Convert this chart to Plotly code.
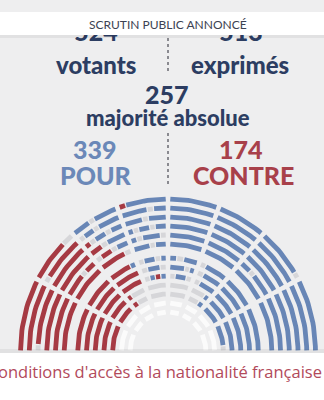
import math
import plotly.graph_objects as go

# ---------------- data ----------------
VOTANTS = 524
EXPRIMES = 513
MAJORITE = 257
POUR = 339
CONTRE = 174
HEADER = "SCRUTIN PUBLIC ANNONCÉ"
FOOTER = "onditions d'accès à la nationalité française"
LBL_VOTANTS = "votants"
LBL_EXPRIMES = "exprimés"
LBL_MAJ = "majorité absolue"
LBL_POUR = "POUR"
LBL_CONTRE = "CONTRE"

# seat vote runs per row (outer row first), listed left to right
# R = contre, B = pour, G = non exprimé / absent, W = banc vide
row_runs = [
    [("R", 19), ("G", 2), ("B", 3), ("G", 1), ("B", 4), ("R", 1), ("B", 30), ("G", 1), ("B", 12)],
    [("R", 11), ("G", 1), ("R", 7), ("G", 1), ("B", 2), ("G", 1), ("B", 8), ("G", 1), ("B", 37)],
    [("G", 1), ("R", 18), ("G", 1), ("B", 2), ("G", 1), ("B", 5), ("G", 1), ("B", 36)],
    [("R", 19), ("G", 1), ("B", 4), ("G", 1), ("B", 2), ("G", 1), ("B", 32)],
    [("R", 13), ("G", 1), ("R", 2), ("G", 1), ("R", 2), ("G", 1), ("B", 3), ("G", 1), ("B", 3), ("G", 1), ("B", 14), ("G", 1), ("B", 13)],
    [("R", 19), ("G", 1), ("B", 3), ("G", 1), ("B", 28)],
    [("R", 17), ("B", 1), ("G", 1), ("B", 2), ("G", 1), ("B", 2), ("G", 1), ("B", 2), ("G", 1), ("B", 2), ("B", 15)],
    [("R", 16), ("G", 1), ("B", 2), ("G", 1), ("B", 1), ("B", 2), ("G", 1), ("B", 1), ("G", 1), ("B", 2), ("B", 13)],
    [("R", 14), ("G", 1), ("B", 1), ("R", 1), ("B", 1), ("G", 1), ("B", 2), ("G", 2), ("B", 1), ("B", 12)],
    [("R", 10), ("G", 12), ("B", 10)],
    [("R", 9), ("G", 10), ("B", 8), ("G", 1)],
    [("W", 23)],
    [("W", 19)],
]

# ---------------- style / layout ----------------
W, H = 324, 400
BG = "#eeeeef"
COLORS = {"R": "#a63a43", "B": "#6886b6", "G": "#d6d6d9", "W": "#fbfbfb"}
NAVY = "#2c3d62"
BLUE_T = "#6b88b8"
RED_T = "#a8404a"
CX, CY = 168, 351
XS = 0.97
RADII = [152, 143, 134, 125, 116, 107, 93, 84, 75, 66, 57, 48, 39]
AISLES = [28, 50, 70, 90, 110, 130, 152]
AISLE_PX = 3.4
BAR_W = 4.8
GAP_PX = 1.3

paths = {k: ([], []) for k in COLORS}
for r, runs in zip(RADII, row_runs):
    seats = [c for c, n in runs for _ in range(n)]
    n = len(seats)
    half = math.degrees(AISLE_PX / 2 / r)
    edges = sorted([0, 180] + AISLES, reverse=True)
    sectors = []
    for k in range(len(edges) - 1):
        a0 = edges[k] - (half if k > 0 else 0)
        a1 = edges[k + 1] + (half if k + 1 < len(edges) - 1 else 0)
        sectors.append((a0, a1))
    total = sum(a0 - a1 for a0, a1 in sectors)
    counts, cum, acc = [], 0, 0.0
    for a0, a1 in sectors:
        acc += (a0 - a1) / total * n
        c = int(round(acc)) - cum
        counts.append(c)
        cum += c
    idx = 0
    g = math.degrees(GAP_PX / 2 / r)
    for (a0, a1), c in zip(sectors, counts):
        if c <= 0:
            continue
        step = (a0 - a1) / c
        j = 0
        while j < c:
            col = seats[idx + j]
            k = j
            while k < c and seats[idx + k] == col:
                k += 1
            s = a0 - j * step - g
            e = a0 - k * step + g
            npts = max(3, int((s - e) / 1.5) + 2)
            xs, ys = paths[col]
            for p in range(npts):
                a = math.radians(s + (e - s) * p / (npts - 1))
                xs.append(CX + XS * r * math.cos(a))
                ys.append(CY - r * math.sin(a))
            xs.append(None)
            ys.append(None)
            j = k
        idx += c

fig = go.Figure()
for key, (xs, ys) in paths.items():
    fig.add_trace(go.Scatter(x=xs, y=ys, mode="lines", hoverinfo="skip",
                             line=dict(color=COLORS[key], width=BAR_W)))

# numbers partly hidden behind the header band
fig.add_trace(go.Scatter(x=[96, 241], y=[35, 35], mode="text",
                         text=[str(VOTANTS), str(EXPRIMES)],
                         textfont=dict(family="Lato", size=25, color=NAVY, weight=900),
                         hoverinfo="skip"))

shapes = [
    dict(type="rect", x0=0, x1=W, y0=35, y1=38, fillcolor="rgba(0,0,0,0.05)", line=dict(width=0), layer="above"),
    dict(type="rect", x0=0, x1=W, y0=12, y1=35, fillcolor="white", line=dict(width=0), layer="above"),
    dict(type="rect", x0=0, x1=W, y0=349, y1=353, fillcolor="rgba(0,0,0,0.05)", line=dict(width=0), layer="above"),
    dict(type="rect", x0=0, x1=W, y0=353, y1=H, fillcolor="white", line=dict(width=0), layer="above"),
    dict(type="line", x0=168, x1=168, y0=38, y1=73, line=dict(color="#6a6a72", width=1.5, dash="dot")),
    dict(type="line", x0=168, x1=168, y0=133, y1=184, line=dict(color="#6a6a72", width=1.5, dash="dot")),
]

def ann(x, y, text, size, color, weight=900, family="Lato", xanchor="center", xref="x"):
    return dict(x=x, y=y, xref=xref, yref="y", text=text,
                showarrow=False, xanchor=xanchor, yanchor="middle",
                font=dict(family=family, size=size, color=color, weight=weight))

annotations = [
    ann(168, 24, HEADER, 12, "#3c4252", weight=400),
    ann(96, 64, LBL_VOTANTS, 24, NAVY),
    ann(240, 64, LBL_EXPRIMES, 24, NAVY),
    ann(167, 94, str(MAJORITE), 25, NAVY),
    ann(168, 117, LBL_MAJ, 22, NAVY),
    ann(95, 149, str(POUR), 25, BLUE_T),
    ann(96, 175, LBL_POUR, 25, BLUE_T),
    ann(241, 149, str(CONTRE), 25, RED_T),
    ann(243, 175, LBL_CONTRE, 25, RED_T),
    ann(1.0, 371, FOOTER, 16.5, "#b24a5b", weight=400, family="Open Sans",
        xanchor="right", xref="paper"),
]

fig.update_layout(
    width=W, height=H, margin=dict(l=0, r=0, t=0, b=0),
    paper_bgcolor=BG, plot_bgcolor=BG, showlegend=False,
    xaxis=dict(range=[0, W], visible=False, fixedrange=True),
    yaxis=dict(range=[H, 0], visible=False, fixedrange=True),
    shapes=shapes, annotations=annotations,
)
fig.write_html("out.html")
